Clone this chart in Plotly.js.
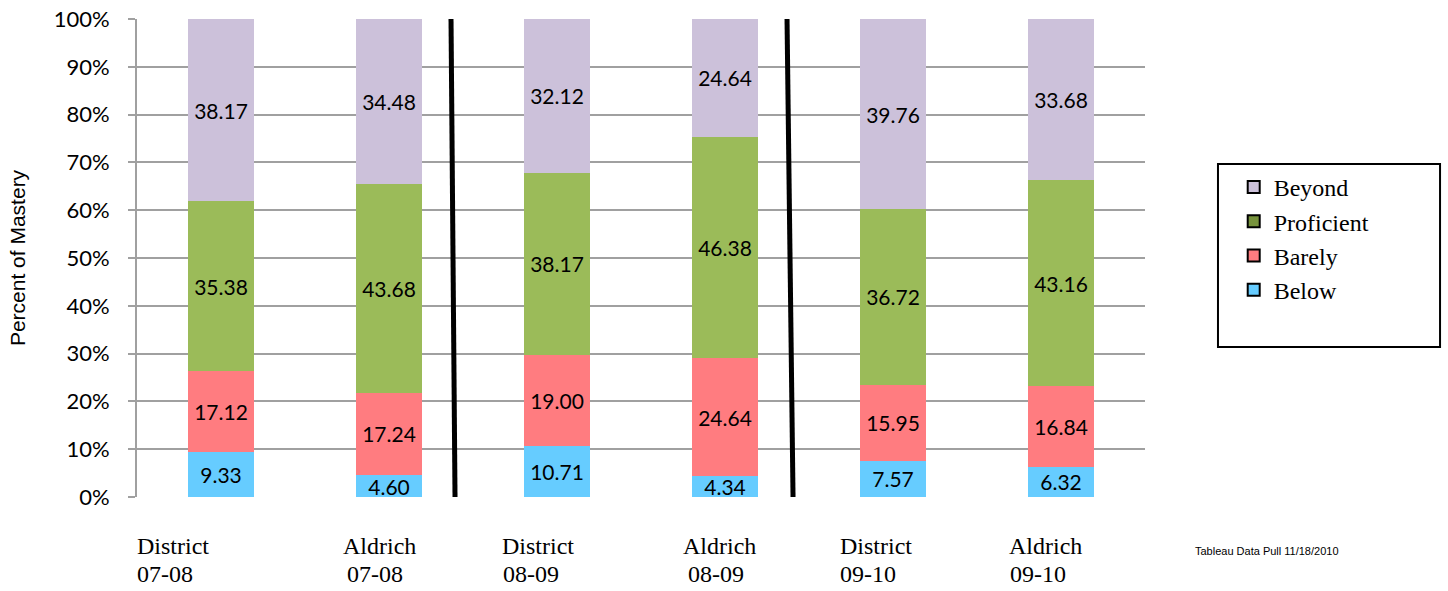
<!DOCTYPE html>
<html>
<head>
<meta charset="utf-8">
<script src="https://cdn.plot.ly/plotly-3.0.1.min.js"></script>
<style>html,body{margin:0;padding:0;background:#fff;}#chart{width:1448px;height:591px;}</style>
</head>
<body>
<div id="chart"></div>
<script>
// ---- data ----
var categories = ["District 07-08", "Aldrich 07-08", "District 08-09", "Aldrich 08-09", "District 09-10", "Aldrich 09-10"];
var labelLine1 = ["District", "Aldrich", "District", "Aldrich", "District", "Aldrich"];
var labelLine2 = ["07-08", "07-08", "08-09", "08-09", "09-10", "09-10"];
var below      = [9.33, 4.60, 10.71, 4.34, 7.57, 6.32];
var barely     = [17.12, 17.24, 19.00, 24.64, 15.95, 16.84];
var proficient = [35.38, 43.68, 38.17, 46.38, 36.72, 43.16];
var beyond     = [38.17, 34.48, 32.12, 24.64, 39.76, 33.68];
var seriesNames = ["Below", "Barely", "Proficient", "Beyond"];
var yTickVals = [0, 10, 20, 30, 40, 50, 60, 70, 80, 90, 100];
var yTickText = ["0%", "10%", "20%", "30%", "40%", "50%", "60%", "70%", "80%", "90%", "100%"];

// ---- styling ----
var barColors    = ["#66CCFF", "#FF7C80", "#9BBB59", "#CCC1DA"];
var legendColors = ["#66CCFF", "#FF7C80", "#77933C", "#CCC1DA"];
var line1Shift   = [-86, -48, -57, -44, -55, -54];
var line2Shift   = [-86, -44, -56, -39, -55, -53];
var sans = "Lato";
var serif = "Liberation Serif, Times New Roman, serif";
var arial = "Liberation Sans, Arial, sans-serif";

var seriesValues = [below, barely, proficient, beyond];
var traces = [];
seriesValues.forEach(function (vals, i) {
  traces.push({
    type: "bar",
    x: categories,
    y: vals,
    name: seriesNames[i],
    showlegend: false,
    width: 0.393,
    marker: {color: barColors[i], line: {width: 0}},
    text: vals.map(function (v) { return v.toFixed(2); }),
    texttemplate: "%{text}",
    textposition: "inside",
    insidetextanchor: "middle",
    textangle: 0,
    constraintext: "none",
    textfont: {family: sans, size: 21, color: "#000"},
    hoverinfo: "skip"
  });
});
// legend-only entries
seriesNames.forEach(function (n, i) {
  traces.push({
    type: "bar",
    x: [null], y: [null],
    name: n,
    showlegend: true,
    marker: {color: legendColors[i], line: {color: "#000", width: 2}},
    hoverinfo: "skip"
  });
});

var annotations = [];
categories.forEach(function (c, i) {
  annotations.push({
    x: c, xref: "x", y: -0.1025, yref: "paper",
    text: labelLine1[i], showarrow: false,
    xanchor: "left", yanchor: "middle", xshift: line1Shift[i],
    font: {family: serif, size: 24, color: "#000"}
  });
  annotations.push({
    x: c, xref: "x", y: -0.1611, yref: "paper",
    text: labelLine2[i], showarrow: false,
    xanchor: "left", yanchor: "middle", xshift: line2Shift[i],
    font: {family: serif, size: 24, color: "#000"}
  });
});
annotations.push({
  x: 1.0476, xref: "paper", y: -0.113, yref: "paper",
  text: "Tableau Data Pull 11/18/2010", showarrow: false,
  xanchor: "left", yanchor: "middle",
  font: {family: arial, size: 11, color: "#000"}
});

var shapes = [
  {type: "line", xref: "x", yref: "y", x0: 1.369, x1: 1.393, y0: 100.6, y1: 0, line: {color: "#000", width: 5}},
  {type: "line", xref: "x", yref: "y", x0: 3.369, x1: 3.405, y0: 100.6, y1: 0, line: {color: "#000", width: 5}},
  {type: "rect", xref: "paper", yref: "paper", x0: 1.0724, x1: 1.2927, y0: 0.3138, y1: 0.6967, line: {color: "#000", width: 2}}
];

var layout = {
  width: 1448, height: 591,
  margin: {l: 137, r: 303, t: 19, b: 94},
  paper_bgcolor: "#fff", plot_bgcolor: "#fff",
  barmode: "stack",
  showlegend: true,
  legend: {
    x: 1.088, xanchor: "left", y: 0.6946, yanchor: "top",
    traceorder: "reversed",
    bgcolor: "rgba(0,0,0,0)", borderwidth: 0,
    font: {family: serif, size: 24, color: "#000"},
    itemwidth: 30, tracegroupgap: 0
  },
  xaxis: {
    type: "category",
    range: [-0.5, 5.5],
    showticklabels: false,
    showgrid: false, zeroline: false,
    showline: false, ticks: ""
  },
  yaxis: {
    range: [0, 100],
    tickmode: "array",
    tickvals: yTickVals,
    ticktext: yTickText,
    tickfont: {family: sans, size: 22, color: "#000"},
    ticks: "outside", ticklen: 7, tickcolor: "#A0A0A0", tickwidth: 2,
    ticklabelstandoff: 14,
    showgrid: true, gridcolor: "#A0A0A0", gridwidth: 2,
    showline: true, linecolor: "#A0A0A0", linewidth: 2,
    zeroline: false,
    title: {text: "Percent of Mastery", font: {family: arial, size: 21, color: "#000"}, standoff: 22}
  },
  annotations: annotations,
  shapes: shapes
};

Plotly.newPlot("chart", traces, layout, {displayModeBar: false, staticPlot: true});
</script>
</body>
</html>
